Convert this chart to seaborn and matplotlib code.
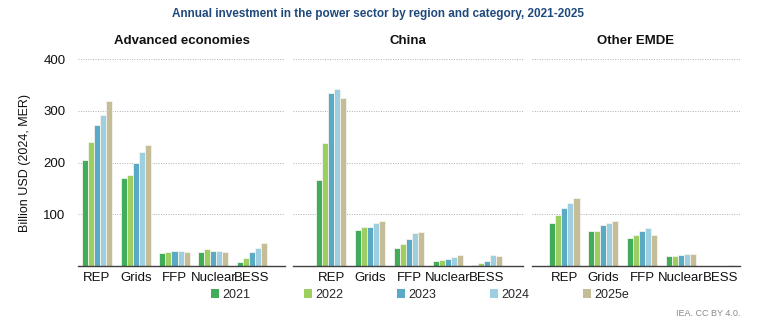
import matplotlib
matplotlib.use("Agg")
import matplotlib.pyplot as plt
import seaborn as sns
import pandas as pd
from matplotlib.patches import Patch

regions = ["Advanced economies", "China", "Other EMDE"]
categories = ["REP", "Grids", "FFP", "Nuclear", "BESS"]
years = ["2021", "2022", "2023", "2024", "2025e"]

# values[region][year] -> list over categories
adv_2021 = [205, 171, 26, 28, 7]
adv_2022 = [239, 176, 28, 33, 15]
adv_2023 = [272, 199, 29, 29, 28]
adv_2024 = [292, 221, 29, 29, 35]
adv_2025 = [319, 235, 27, 28, 44]

chn_2021 = [166, 70, 35, 10, 2]
chn_2022 = [238, 75, 43, 11, 5]
chn_2023 = [334, 75, 52, 14, 10]
chn_2024 = [343, 83, 63, 18, 21]
chn_2025 = [326, 88, 65, 21, 19]

oth_2021 = [83, 67, 55, 20, 0]
oth_2022 = [99, 68, 60, 20, 0]
oth_2023 = [113, 79, 67, 22, 0]
oth_2024 = [121, 83, 74, 23, 0]
oth_2025 = [132, 88, 60, 23, 1]

data = {
    "Advanced economies": [adv_2021, adv_2022, adv_2023, adv_2024, adv_2025],
    "China": [chn_2021, chn_2022, chn_2023, chn_2024, chn_2025],
    "Other EMDE": [oth_2021, oth_2022, oth_2023, oth_2024, oth_2025],
}

colors = ["#41ad5a", "#9ccf5f", "#5aaac6", "#9ecfe0", "#c4bd97"]

rows = []
for r in regions:
    for yi, y in enumerate(years):
        for ci, c in enumerate(categories):
            rows.append({"region": r, "year": y, "category": c, "value": data[r][yi][ci]})
df = pd.DataFrame(rows)

sns.set_theme(style="white")
plt.rcParams["font.family"] = ["Liberation Sans", "DejaVu Sans"]

W, H = 762, 326
fig = plt.figure(figsize=(W / 100, H / 100), dpi=100)

def box(x0, x1, ytop=59.3, ybot=266):
    return [x0 / W, 1 - ybot / H, (x1 - x0) / W, (ybot - ytop) / H]

panels = [
    (box(78, 285), (-0.49, 4.85)),
    (box(293, 523), (-0.98, 4.93)),
    (box(532, 740), (-0.83, 4.51)),
]

for i, (r, (rect, xl)) in enumerate(zip(regions, panels)):
    ax = fig.add_axes(rect)
    sub = df[df["region"] == r]
    sns.barplot(data=sub, x="category", y="value", hue="year", order=categories,
                hue_order=years, palette=colors, width=0.78, ax=ax, legend=False,
                edgecolor="#f4f4ee", linewidth=0.6, saturation=1)
    ax.set_xlim(*xl)
    ax.set_ylim(0, 400)
    ax.set_yticks([100, 200, 300, 400])
    for yv in [100, 200, 300, 400]:
        ax.axhline(yv, color="#b0b0b0", linestyle=(0, (1, 1.5)), linewidth=0.7, zorder=0)
    for s in ["top", "right", "left"]:
        ax.spines[s].set_visible(False)
    ax.spines["bottom"].set_color("#404040")
    ax.spines["bottom"].set_linewidth(1.0)
    ax.set_xlabel("")
    ax.set_ylabel("")
    ax.tick_params(axis="x", length=0, pad=4, labelsize=9.5, labelcolor="#111111")
    ax.tick_params(axis="y", length=0, pad=9, labelsize=9.5, labelcolor="#111111")
    if i > 0:
        ax.set_yticklabels([])
    else:
        ax.set_ylabel("Billion USD (2024, MER)", fontsize=9, color="#111111", labelpad=9)
    ax.set_title(r, fontsize=9.5, fontweight="bold", pad=11, color="#111111")

fig.text(378 / W, 1 - 14 / H, "Annual investment in the power sector by region and category, 2021-2025",
         ha="center", va="center", fontsize=8.5, fontweight="bold", color="#1f497d")

handles = [Patch(facecolor=c, edgecolor="none", label=y) for c, y in zip(colors, years)]
fig.legend(handles=handles, loc="center", bbox_to_anchor=(420 / W, 1 - 295 / H), ncol=5,
           frameon=False, fontsize=9, handlelength=0.65, handleheight=0.65,
           handletextpad=0.25, columnspacing=4.3, borderaxespad=0)

fig.text(740 / W, 1 - 313 / H, "IEA. CC BY 4.0.", ha="right", va="center",
         fontsize=6.5, color="#8a8a8a")

fig.savefig("out.png", dpi=100)
